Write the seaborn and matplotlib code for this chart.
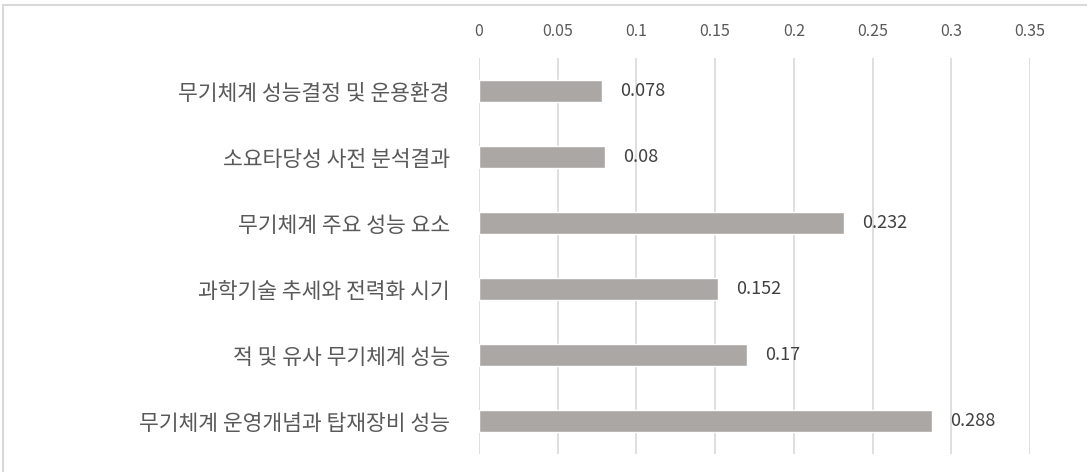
import seaborn as sns
import pandas as pd
import matplotlib.pyplot as plt
from matplotlib.patches import Rectangle

categories = ["무기체계 성능결정 및 운용환경", "소요타당성 사전 분석결과", "무기체계 주요 성능 요소",
              "과학기술 추세와 전력화 시기", "적 및 유사 무기체계 성능", "무기체계 운영개념과 탑재장비 성능"]
values = [0.078, 0.08, 0.232, 0.152, 0.17, 0.288]
value_labels = ["0.078", "0.08", "0.232", "0.152", "0.17", "0.288"]
ticks = [0, 0.05, 0.1, 0.15, 0.2, 0.25, 0.3, 0.35]
tick_labels = ["0", "0.05", "0.1", "0.15", "0.2", "0.25", "0.3", "0.35"]

sns.set_style("white")
plt.rcParams['font.family'] = ['Noto Sans CJK KR', 'DejaVu Sans']

df = pd.DataFrame({"item": categories, "weight": values})

fig = plt.figure(figsize=(10.87, 4.72), dpi=100)
ax = fig.add_axes([479 / 1087, 1 - 454 / 472, 551 / 1087, 396 / 472])

sns.barplot(data=df, x="weight", y="item", color="#ABA7A5", width=0.34,
            saturation=1, ax=ax, zorder=3)

ax.set_xlim(0, 0.35)
ax.set_ylim(5.5, -0.5)
ax.set_xticks(ticks)
ax.set_xticklabels(tick_labels)
ax.xaxis.tick_top()
ax.tick_params(axis="x", length=0, pad=13, labelsize=11.5, labelcolor="#595959")
ax.tick_params(axis="y", length=0, pad=21, labelsize=15.5, labelcolor="#595959")
ax.grid(axis="x", color="#D9D9D9", linewidth=1.2, zorder=0)
ax.set_xlabel("")
ax.set_ylabel("")
for s in ax.spines.values():
    s.set_visible(False)

for i, (v, lab) in enumerate(zip(values, value_labels)):
    ax.annotate(lab, (v, i), xytext=(13, 0), textcoords="offset points",
                va="center", ha="left", fontsize=13, color="#404040")

# light frame around the chart
fig.patches.append(Rectangle((3 / 1087, -0.1), 1.2, 1 - 5 / 472 + 0.1, transform=fig.transFigure,
                             fill=False, edgecolor="#D9D9D9", linewidth=1.5))

fig.savefig("out.png", dpi=100)
